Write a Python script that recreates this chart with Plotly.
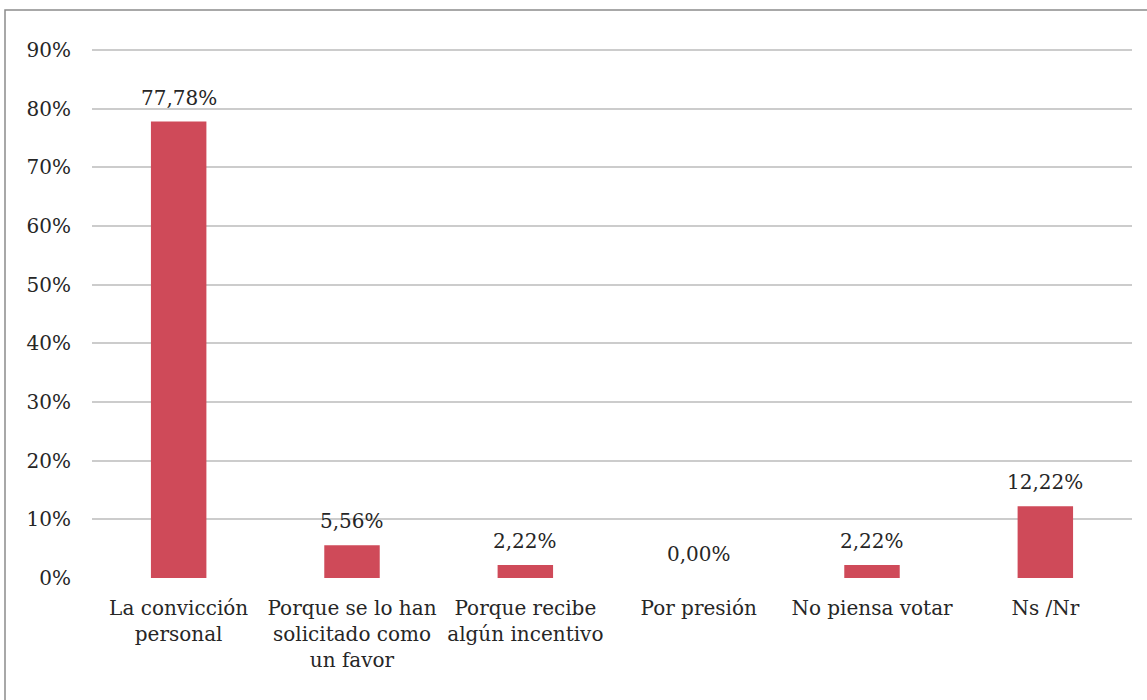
import plotly.graph_objects as go

categories = [
    "La convicción<br>personal",
    "Porque se lo han<br>solicitado como<br>un favor",
    "Porque recibe<br>algún incentivo",
    "Por presión",
    "No piensa votar",
    "Ns /Nr",
]
values = [0.7778, 0.0556, 0.0222, 0.0, 0.0222, 0.1222]
labels = ["77,78%", "5,56%", "2,22%", "0,00%", "2,22%", "12,22%"]
y_ticks = [0, 0.1, 0.2, 0.3, 0.4, 0.5, 0.6, 0.7, 0.8, 0.9]

FONT = "DejaVu Serif"
TXT = "#262626"
FS = 20

W, H = 1147, 700
Y_MAX = 0.91
ML, MR, MB = 92, 15, 122
PH = round(528 * Y_MAX / 0.9)
MT = H - MB - PH

xs = list(range(len(categories)))
fig = go.Figure(go.Bar(
    x=xs,
    y=values,
    marker=dict(color="#CF4A59", line=dict(width=0)),
    hoverinfo="skip",
))

for xi, v, lab in zip(xs, values, labels):
    fig.add_annotation(
        x=xi, y=v, text=lab, showarrow=False,
        xanchor="center", yanchor="bottom", yshift=10,
        font=dict(family=FONT, size=FS, color=TXT),
    )

pw = W - ML - MR
fig.add_shape(
    type="rect", xref="paper", yref="paper",
    x0=(5 - ML) / pw, x1=(W + 20 - ML) / pw,
    y0=-(MB + 20) / PH, y1=(H - MB - 10) / PH,
    line=dict(color="#8C8C8C", width=1.5), fillcolor="rgba(0,0,0,0)",
    layer="below",
)

fig.update_layout(
    width=W, height=H,
    margin=dict(l=ML, r=MR, t=MT, b=MB),
    plot_bgcolor="white", paper_bgcolor="white",
    bargap=0.68,
    showlegend=False,
    font=dict(family=FONT, size=FS, color=TXT),
    xaxis=dict(
        tickmode="array", tickvals=xs, ticktext=categories,
        range=[-0.5, len(categories) - 0.5],
        showgrid=False, zeroline=False, showline=False, ticks="",
        ticklabelstandoff=16,
        tickfont=dict(family=FONT, size=FS, color=TXT),
    ),
    yaxis=dict(
        range=[0, Y_MAX], tickvals=y_ticks, tickformat=".0%",
        showgrid=True, gridcolor="#CCCCCC", gridwidth=1.5,
        zeroline=False, showline=False, ticks="",
        ticklabelstandoff=20,
        tickfont=dict(family=FONT, size=FS, color=TXT),
    ),
)

fig.write_html("out.html", config={"displayModeBar": False},
               post_script="document.body.style.margin='0px';")
